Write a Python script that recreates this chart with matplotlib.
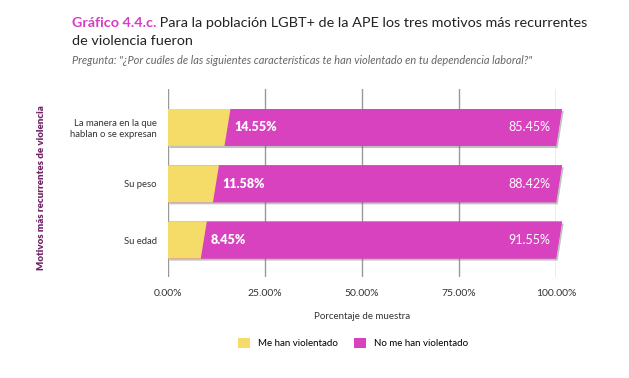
import numpy as np
import matplotlib as mpl
import matplotlib.pyplot as plt
from matplotlib.patches import Polygon, Patch
import matplotlib.patheffects as pe

mpl.rcParams['font.family'] = ['Lato', 'DejaVu Sans']

# colors
yellow = '#F5DC69'
pink = '#D842BF'
title_pink = '#D63CC4'
label_purple = '#6E2366'
text_dark = '#333333'

# data
categories = ['La manera en la que\nhablan o se expresan', 'Su peso', 'Su edad']
violentado = [14.55, 11.58, 8.45]
no_violentado = [85.45, 88.42, 91.55]
xticks = [0, 25, 50, 75, 100]
xticklabels = ['0.00%', '25.00%', '50.00%', '75.00%', '100.00%']

fig = plt.figure(figsize=(6.29, 3.78), dpi=100)
ax = fig.add_axes([168/629, 1 - 277/378, 388/629, 188/378])

bar_h = 0.657
slant = 1.55  # top edge shifted right (data units)
shadow = [pe.SimplePatchShadow(offset=(1.2, -1.5), shadow_rgbFace='#666666', alpha=0.4),
          pe.Normal()]

for i, (v, w) in enumerate(zip(violentado, no_violentado)):
    bot = i + bar_h / 2
    top = i - bar_h / 2
    total = v + w
    outline = Polygon([(0, bot), (total, bot), (total + slant, top), (0, top)],
                      closed=True, facecolor=pink, edgecolor='none', zorder=2, clip_on=False)
    outline.set_path_effects(shadow)
    ax.add_patch(outline)
    ax.add_patch(Polygon([(v, bot), (total, bot), (total + slant, top), (v + slant, top)],
                         closed=True, facecolor=pink, edgecolor='none', zorder=3,
                         clip_on=False))
    ax.add_patch(Polygon([(0, bot), (v, bot), (v + slant, top), (0, top)],
                         closed=True, facecolor=yellow, edgecolor='none', zorder=3,
                         clip_on=False))
    ax.text(v + slant + 1.0, i, f'{v:.2f}%', color='white', fontsize=9,
            fontweight='heavy', va='center', ha='left', zorder=4)
    ax.text(98.45, i, f'{w:.2f}%', color='white', fontsize=9,
            va='center', ha='right', zorder=4)

for x in xticks:
    ax.axvline(x, color='#999999', linewidth=1, zorder=1)

ax.set_xlim(0, 100)
ax.set_ylim(2.657, -0.684)
ax.set_xticks(xticks)
ax.set_xticklabels(xticklabels, fontsize=7.5, color=text_dark)
ax.set_yticks(range(len(categories)))
ax.set_yticklabels(categories, fontsize=6.8, color=text_dark, ha='right')
ax.tick_params(axis='both', length=0)
ax.tick_params(axis='x', pad=9)
ax.tick_params(axis='y', pad=8)
for s in ax.spines.values():
    s.set_visible(False)

ax.set_xlabel('Porcentaje de muestra', fontsize=7, color=text_dark, labelpad=10)
fig.text(42/629, 1 - 188/378, 'Motivos más recurrentes de violencia', rotation=90,
         fontsize=7, fontweight='heavy', color=label_purple, ha='center', va='center')

# title
t1 = fig.text(72/629, 1 - 27/378, 'Gráfico 4.4.c.', fontsize=10.4, fontweight='bold',
              color=title_pink, ha='left', va='baseline')
fig.canvas.draw()
ax.annotate(' Para la población LGBT+ de la APE los tres motivos más recurrentes',
            xy=(1, 0), xycoords=t1, fontsize=10.4, color='#222222',
            ha='left', va='bottom', annotation_clip=False)
fig.text(72/629, 1 - 45/378, 'de violencia fueron', fontsize=10.4, color='#222222',
         ha='left', va='baseline')
fig.text(72/629, 1 - 64/378,
         'Pregunta: "¿Por cuáles de las siguientes características te han violentado en tu dependencia laboral?"',
         fontsize=7.9, style='italic', color='#666666', ha='left', va='baseline')

handles = [Patch(facecolor=yellow, edgecolor='none'), Patch(facecolor=pink, edgecolor='none')]
fig.legend(handles, ['Me han violentado', 'No me han violentado'], loc='center',
           bbox_to_anchor=(353/629, 1 - 343/378), ncol=2, frameon=False, fontsize=7,
           handlelength=1.25, handleheight=1.25, columnspacing=1.6, handletextpad=0.8)

fig.savefig('out.png', dpi=100)
